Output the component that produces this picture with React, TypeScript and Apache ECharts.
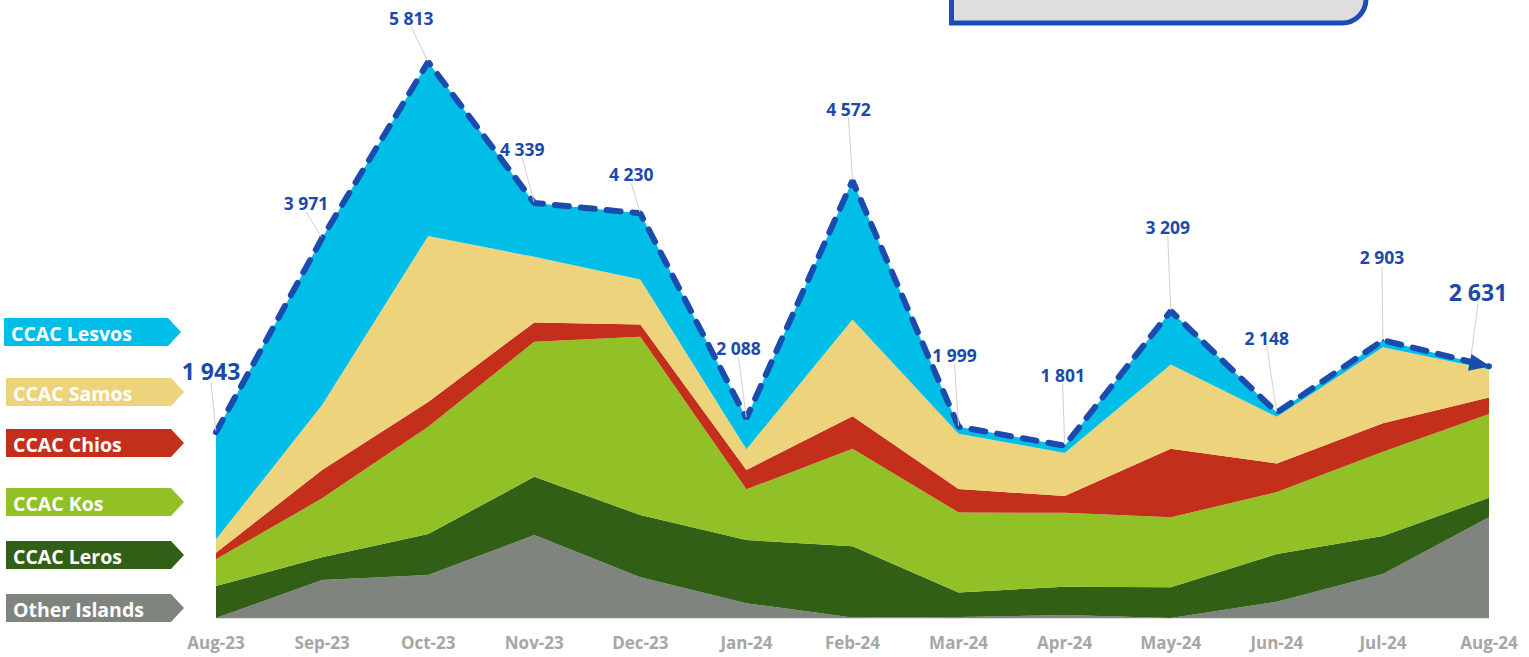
import React, { useEffect, useRef } from 'react';
import * as echarts from 'echarts';

// ---- Data ----
const months = ['Aug-23', 'Sep-23', 'Oct-23', 'Nov-23', 'Dec-23', 'Jan-24', 'Feb-24', 'Mar-24', 'Apr-24', 'May-24', 'Jun-24', 'Jul-24', 'Aug-24'];
const otherIslands = [0, 397, 449, 867, 425, 154, 5, 10, 31, 0, 170, 460, 1052];
const ccacLeros = [334, 237, 428, 609, 651, 661, 745, 257, 296, 321, 498, 397, 205];
const ccacKos = [279, 617, 1121, 1411, 1863, 530, 1018, 836, 773, 731, 648, 881, 875];
const ccacChios = [69, 296, 261, 203, 130, 202, 341, 245, 174, 717, 300, 297, 174];
const ccacSamos = [140, 679, 1735, 685, 470, 216, 1010, 578, 452, 882, 487, 794, 293];
const ccacLesvos = [1121, 1745, 1819, 564, 691, 325, 1453, 73, 75, 558, 45, 74, 32];
const totals = [1943, 3971, 5813, 4339, 4230, 2088, 4572, 1999, 1801, 3209, 2148, 2903, 2631];

const seriesNames = ['Other Islands', 'CCAC Leros', 'CCAC Kos', 'CCAC Chios', 'CCAC Samos', 'CCAC Lesvos'];
const seriesValues = [otherIslands, ccacLeros, ccacKos, ccacChios, ccacSamos, ccacLesvos];

// ---- Styles ----
const seriesColors = ['#80847f', '#325f16', '#91c126', '#c42f1b', '#edd37b', '#00bee8'];
const totalColor = '#1a4cb0';
const labelColor = '#1c4aa8';
const fontFamily = "'Open Sans', 'Noto Sans', sans-serif";
// label centre offsets relative to the data point (px)
const labelOffsets: [number, number][] = [
  [-5, -61], [-16, -35], [-17, -44], [-12, -54], [-9, -39], [-8, -70], [-4, -72],
  [-4, -72], [-2, -71], [-3, -84], [-10, -75], [-1, -83], [-2, -72],
];
// legend tag tops (px), order matches seriesNames
const legendTops = [594, 541, 488, 429, 378, 318];

const fmt = (v: number) => String(v).replace(/\B(?=(\d{3})+(?!\d))/g, ' ');

export default function App() {
  const ref = useRef<HTMLDivElement>(null);

  useEffect(() => {
    if (!ref.current) return;
    const chart = echarts.init(ref.current, undefined, { renderer: 'svg' });

    const areaSeries = seriesNames.map((name, i) => ({
      name,
      type: 'line',
      stack: 'total',
      data: seriesValues[i],
      symbol: 'none',
      lineStyle: { width: 0 },
      areaStyle: { color: seriesColors[i], opacity: 1 },
      itemStyle: { color: seriesColors[i] },
      z: 2,
    }));

    const last = totals.length - 1;
    const totalData = totals.map((v, i) => {
      if (i === last) {
        return {
          value: v,
          symbol: 'triangle',
          symbolSize: [17, 21],
          symbolRotate: -101,
          symbolOffset: [-9, -2],
          label: { fontSize: 23 },
        };
      }
      if (i === 0) return { value: v, label: { fontSize: 23 } };
      return v;
    });

    const totalSeries = {
      name: 'Total',
      type: 'line',
      data: totalData,
      symbol: 'circle',
      symbolSize: 2,
      showSymbol: true,
      itemStyle: { color: totalColor },
      lineStyle: { color: totalColor, width: 6, type: [14, 12], cap: 'round' },
      z: 5,
      label: {
        show: true,
        position: 'inside',
        color: labelColor,
        fontFamily,
        fontWeight: 'bold',
        fontSize: 17.5,
        formatter: (p: any) => fmt(typeof p.value === 'object' ? p.value.value : p.value),
      },
      labelLine: {
        show: true,
        lineStyle: { color: '#d0d0d0', width: 1 },
      },
      labelLayout: (params: any) => ({
        dx: labelOffsets[params.dataIndex][0],
        dy: labelOffsets[params.dataIndex][1],
        hideOverlap: false,
      }),
    };

    const legendGraphics: any[] = [];
    seriesNames.forEach((name, i) => {
      const top = legendTops[i];
      const isTop = i === seriesNames.length - 1;
      const x0 = isTop ? 4 : 6;
      const xs = isTop ? 168 : 171;
      const tip = isTop ? 181 : 184;
      const h = 28;
      legendGraphics.push({
        type: 'polygon',
        shape: {
          points: [[x0, top], [xs, top], [tip, top + h / 2], [xs, top + h], [x0, top + h]],
        },
        style: { fill: seriesColors[i] },
        z: 10,
      });
      legendGraphics.push({
        type: 'text',
        x: x0 + 7,
        y: top + h / 2 + 1,
        style: {
          text: name,
          fill: '#ffffff',
          fontFamily,
          fontWeight: 'bold',
          fontSize: 19.5,
          verticalAlign: 'middle',
          align: 'left',
        },
        z: 11,
      });
    });

    const boxGraphic = {
      type: 'rect',
      shape: { x: 951.5, y: -40, width: 414.5, height: 63, r: [0, 0, 24, 0] },
      style: { fill: '#dedede', stroke: '#1a4db5', lineWidth: 5 },
      z: 10,
    };

    chart.setOption({
      animation: false,
      grid: { left: 216, right: 40, top: 44, bottom: 39, containLabel: false },
      xAxis: {
        type: 'category',
        data: months,
        boundaryGap: false,
        axisTick: { show: false },
        axisLine: { show: true, lineStyle: { color: '#e0e0e0', width: 1 } },
        axisLabel: {
          color: '#a6a6a6',
          fontFamily,
          fontWeight: 'bold',
          fontSize: 17,
          margin: 16,
        },
        splitLine: { show: false },
      },
      yAxis: {
        type: 'value',
        min: 0,
        max: 6000,
        show: false,
        splitLine: { show: false },
      },
      series: [...areaSeries, totalSeries],
      graphic: [boxGraphic, ...legendGraphics],
    });

    return () => chart.dispose();
  }, []);

  return (
    <div
      ref={ref}
      style={{ position: 'fixed', left: 0, top: 0, width: '1529px', height: '657px', background: '#ffffff' }}
    />
  );
}
